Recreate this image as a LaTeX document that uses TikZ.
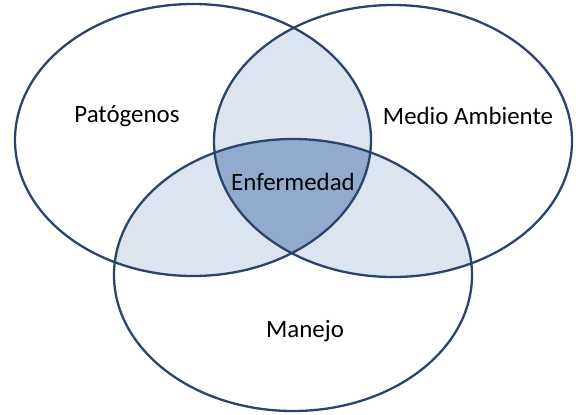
\documentclass[tikz,border=0pt]{standalone}
\usepackage{fontspec}
\setmainfont{Carlito}
\usepackage{xcolor}
\definecolor{vennline}{HTML}{2B4468}
\definecolor{vennlight}{HTML}{DCE4EF}
\definecolor{venndark}{HTML}{91ABCF}

\def\patoset{(193,140) ellipse [x radius=178, y radius=136]}
\def\medioset{(393,141) ellipse [x radius=179, y radius=136]}
\def\manejoset{(293,275) ellipse [x radius=179, y radius=136]}

\begin{document}
\begin{tikzpicture}[x=1bp,y=-1bp]
\tikzset{set line/.style={draw=vennline,line width=2.3bp}}
\tikzset{set label/.style={text=black,font=\fontsize{25}{30}\selectfont,inner sep=0pt}}

\useasboundingbox (0,0) rectangle (576,414);

% pairwise overlaps
\begin{scope}
\clip \patoset;
\fill[vennlight] \medioset;
\fill[vennlight] \manejoset;
\end{scope}
\begin{scope}
\clip \medioset;
\fill[vennlight] \manejoset;
\end{scope}
% all three
\begin{scope}
\clip \patoset;
\clip \medioset;
\fill[venndark] \manejoset;
\end{scope}

\draw[set line] \patoset;
\draw[set line] \medioset;
\draw[set line] \manejoset;

\node[set label] (pato) at (127,116) {Patógenos};
\node[set label] (medio) at (468,116) {Medio Ambiente};
\node[set label] (enf) at (293,182) {Enfermedad};
\node[set label] (manejo) at (305,331) {Manejo};

\end{tikzpicture}
\end{document}
